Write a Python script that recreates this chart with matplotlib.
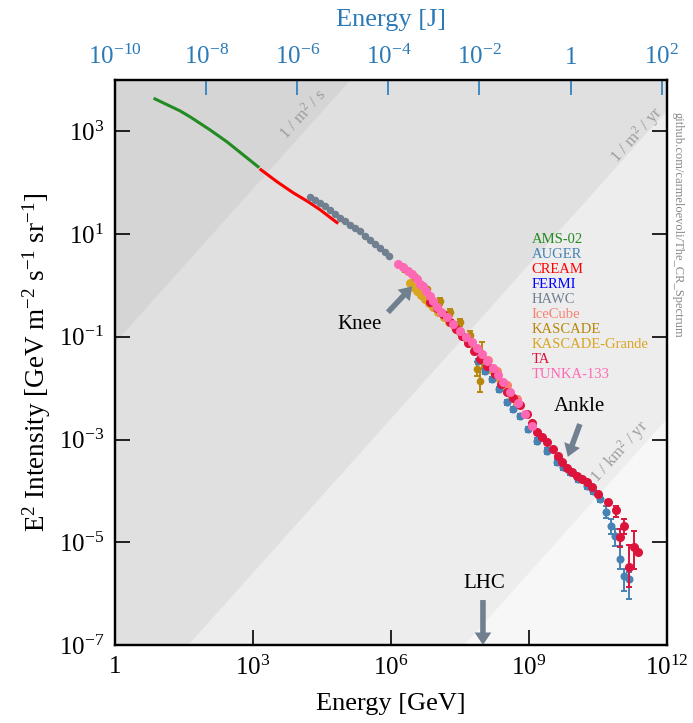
import numpy as np
import matplotlib.pyplot as plt
from matplotlib.ticker import FuncFormatter, NullLocator

plt.rcParams['font.family'] = ['Liberation Serif', 'DejaVu Serif']
plt.rcParams['mathtext.fontset'] = 'custom'
plt.rcParams['mathtext.rm'] = 'Liberation Serif'
plt.rcParams['mathtext.it'] = 'Liberation Serif:italic'

# ---- data (E in GeV, E^2 I in GeV m^-2 s^-1 sr^-1) ----
ams_E = [7.4, 26, 43, 116, 272, 1285]
ams_F = [4280, 2500, 1914, 1070, 625, 205]

cream_E = [1490, 3330, 7410, 15700, 28600, 67000]
cream_F = [179, 104.5, 64, 42.8, 29.9, 16.7]

hawc_E = [1.73e4, 2.23e4, 2.86e4, 3.67e4, 4.72e4, 6.07e4, 7.78e4, 1.0e5, 1.28e5,
          1.65e5, 2.12e5, 2.72e5, 3.49e5, 4.49e5, 5.77e5, 7.41e5, 9.05e5]
hawc_F = [52.7, 46.8, 40.4, 35.0, 29.9, 25.0, 20.7, 17.9, 15.3,
          13.1, 11.3, 9.35, 7.81, 6.55, 5.40, 4.47, 3.71]

tunka_E = [1.42e6, 1.82e6, 2.34e6, 2.86e6, 3.67e6, 4.27e6, 4.97e6, 5.77e6, 7.05e6,
           8.19e6, 1.0e7, 1.22e7, 1.65e7, 2.23e7, 3.16e7, 4.27e7, 5.77e7, 7.41e7,
           9.5e7, 1.22e8, 1.65e8, 2.12e8, 2.72e8, 3.86e8, 5.77e8, 8.19e8, 1.16e9]
tunka_F = [2.56, 2.24, 1.87, 1.64, 1.31, 1.09, 0.957, 0.764, 0.611,
           0.489, 0.374, 0.299, 0.239, 0.175, 0.128, 0.0977, 0.0782, 0.0598,
           0.0457, 0.0334, 0.0244, 0.0179, 0.0131, 0.00836, 0.00512, 0.00313, 0.00183]

ta_E = [7.05e6, 1.0e7, 1.35e7, 1.92e7, 2.59e7, 3.49e7, 4.72e7, 6.37e7, 8.61e7,
        1.22e8, 1.82e8, 2.46e8, 3.32e8, 4.49e8, 6.37e8, 9.05e8, 1.16e9, 1.49e9,
        1.92e9, 2.46e9, 3.32e9, 4.27e9, 5.21e9, 6.70e9, 8.61e9, 1.10e10, 1.42e10,
        1.82e10, 2.34e10, 3.16e10, 5.21e10, 7.78e10, 9.51e10, 1.16e11, 1.49e11,
        1.92e11, 2.34e11]
ta_F = [0.468, 0.357, 0.274, 0.191, 0.140, 0.102, 0.0748, 0.0522, 0.0366,
        0.0267, 0.0187, 0.0120, 0.00836, 0.00640, 0.00468, 0.00313, 0.00209, 0.00140,
        0.00112, 8.93e-4, 6.55e-4, 4.79e-4, 3.66e-4, 2.80e-4, 2.34e-4, 1.95e-4, 1.71e-4,
        1.50e-4, 1.20e-4, 8.75e-5, 6.11e-5, 4.28e-5, 1.28e-5, 2.09e-5, 3.34e-6,
        8.18e-6, 6.55e-6]
ta_err_dn = [0] * 29 + [0.05, 0.08, 0.27, 0.36, 0.30, 0.59, 0.63, 0.0]
ta_err_up = [0] * 29 + [0.05, 0.08, 0.20, 0.43, 0.37, 1.67, 1.04, 0.0]

auger_E = [7.78e7, 1.10e8, 1.57e8, 2.23e8, 3.32e8, 4.49e8, 6.37e8, 9.51e8, 1.49e9,
           2.46e9, 4.06e9, 5.48e9, 7.78e9, 1.16e10, 1.82e10, 2.46e10, 3.49e10,
           4.72e10, 6.07e10, 7.41e10, 9.51e10, 1.16e11, 1.49e11]
auger_F = [0.0334, 0.0214, 0.0150, 0.00957, 0.00535, 0.00391, 0.00286, 0.00160, 9.35e-4,
           5.98e-4, 3.66e-4, 2.92e-4, 2.34e-4, 1.71e-4, 1.25e-4, 1.0e-4, 7.0e-5,
           3.91e-5, 2.09e-5, 1.34e-5, 4.79e-6, 2.24e-6, 1.95e-6]
auger_err_dn = [0.12, 0.12, 0.12, 0.12, 0.12, 0.12, 0.12, 0.12, 0.12,
                0.12, 0.12, 0.12, 0.12, 0.12, 0.12, 0.12, 0.14,
                0.235, 0.30, 0.36, 0.36, 0.49, 0.59]
auger_err_up = [0.12, 0.12, 0.12, 0.12, 0.12, 0.12, 0.12, 0.12, 0.12,
                0.12, 0.12, 0.12, 0.12, 0.12, 0.12, 0.12, 0.14,
                0.31, 0.37, 0.37, 0.78, 0.36, 0.37]

kg_E = [2.59e6, 3.01e6, 3.67e6, 4.49e6, 5.48e6, 6.70e6, 8.19e6, 1.05e7, 1.42e7,
        1.82e7, 2.46e7, 3.16e7, 4.27e7, 5.48e7, 7.41e7, 9.51e7, 1.22e8, 1.57e8,
        2.01e8, 2.59e8, 3.32e8, 4.27e8, 5.48e8]
kg_F = [1.14, 0.914, 0.764, 0.640, 0.535, 0.447, 0.374, 0.299, 0.239,
        0.191, 0.153, 0.122, 0.0935, 0.0748, 0.0571, 0.0418, 0.0305, 0.0224,
        0.0164, 0.0120, 0.00875, 0.00668, 0.00489]

kascade_E = [2.01e6, 3.32e6, 6.07e6, 1.16e7, 1.92e7, 3.16e7, 5.21e7, 7.41e7, 8.61e7, 9.51e7]
kascade_F = [2.05, 1.43, 0.836, 0.489, 0.299, 0.191, 0.107, 0.0234, 0.0137, 0.0438]
kascade_err_dn = [0.12, 0.12, 0.12, 0.14, 0.14, 0.16, 0.2, 0.27, 0.39, 0.47]
kascade_err_up = [0.12, 0.12, 0.12, 0.14, 0.14, 0.16, 0.2, 0.37, 0.71, 0.79]

icecube_E = [5.21e7, 8.61e7, 1.28e8, 2.01e8, 3.32e8, 5.48e8]
icecube_F = [0.0782, 0.0479, 0.0350, 0.0214, 0.0114, 0.00611]

legend_names = ['AMS-02', 'AUGER', 'CREAM', 'FERMI', 'HAWC', 'IceCube',
                'KASCADE', 'KASCADE-Grande', 'TA', 'TUNKA-133']
legend_colors = ['forestgreen', 'steelblue', 'red', 'blue', 'slategray', 'salmon',
                 'darkgoldenrod', 'goldenrod', 'crimson', 'hotpink']

fig = plt.figure(figsize=(6.93, 7.23), dpi=100)
ax = fig.add_axes([0.1659, 0.1079, 0.7965, 0.7815])
ax.set_xscale('log')
ax.set_yscale('log')
ax.set_xlim(1, 1e12)
ax.set_ylim(1e-7, 1e4)

# flux bands
e_grid = np.logspace(0, 12, 50)
per_m2_s = e_grid / (4 * np.pi)
per_m2_yr = per_m2_s / 3.156e7
per_km2_yr = per_m2_yr / 1e6
ax.set_facecolor('#f7f7f7')
ax.fill_between(e_grid, per_km2_yr, per_m2_yr, color='#ededed', lw=0, zorder=0)
ax.fill_between(e_grid, per_m2_yr, per_m2_s, color='#e0e0e0', lw=0, zorder=0)
ax.fill_between(e_grid, per_m2_s, 1e6, color='#d5d5d5', lw=0, zorder=0)

band_kw = dict(color='#9c9c9c', fontsize=12, rotation=48, ha='center', va='center',
               zorder=1)
ax.text(1.22e4, 2.1e3, r'1 / m$^2$ / s', **band_kw)
ax.text(2.2e11, 8.6e2, r'1 / m$^2$ / yr', **band_kw)
ax.text(9.5e10, 5.7e-4, r'1 / km$^2$ / yr', **band_kw)

# data
ax.plot(ams_E, ams_F, color='forestgreen', lw=2.2, zorder=3)
ax.plot(cream_E, cream_F, color='red', lw=2.2, zorder=3)
ax.plot(hawc_E, hawc_F, 'o', color='slategray', ms=4.4, zorder=3)

def draw_err(E, F, dn, up, color, ms, z):
    F = np.array(F)
    yerr = [F * np.array(dn), F * np.array(up)]
    ax.errorbar(E, F, yerr=yerr, fmt='o', color=color, ms=ms, elinewidth=1.4,
                capsize=2.5, capthick=1.4, zorder=z)

ax.plot(kg_E, kg_F, 'o', color='goldenrod', ms=5.5, zorder=4)
draw_err(kascade_E, kascade_F, kascade_err_dn, kascade_err_up, 'darkgoldenrod', 4.5, 4)
ax.plot(icecube_E, icecube_F, 'o', color='salmon', ms=5.5, zorder=4)
draw_err(auger_E, auger_F, auger_err_dn, auger_err_up, 'steelblue', 4.8, 5)
draw_err(ta_E, ta_F, ta_err_dn, ta_err_up, 'crimson', 5.5, 6)
ax.plot(tunka_E, tunka_F, 'o', color='hotpink', ms=5.5, zorder=7)

# annotations
arrow = dict(facecolor='slategray', edgecolor='none', width=4, headwidth=12, headlength=9)
ax.annotate('', xy=(2.9e6, 0.96), xytext=(8.6e5, 0.3), arrowprops=arrow, zorder=8)
ax.text(2.1e5, 0.175, 'Knee', fontsize=15, ha='center', va='center')
ax.annotate('', xy=(7e9, 4.6e-4), xytext=(1.28e10, 2e-3), arrowprops=arrow, zorder=8)
ax.text(1.28e10, 4.3e-3, 'Ankle', fontsize=15, ha='center', va='center')
ax.annotate('', xy=(1.0e8, 1.0e-7), xytext=(1.0e8, 7.5e-7), arrowprops=arrow, zorder=8)
ax.text(1.05e8, 1.6e-6, 'LHC', fontsize=15, ha='center', va='center')

for i, (name, col) in enumerate(zip(legend_names, legend_colors)):
    ax.text(0.755, 0.717 - i * 0.0264, name, color=col, fontsize=10.5,
            va='center', transform=ax.transAxes, zorder=9)

def pow_label(v, pos):
    p = int(round(np.log10(v)))
    return '1' if p == 0 else r'$10^{%d}$' % p

ax.set_xticks([1, 1e3, 1e6, 1e9, 1e12])
ax.set_yticks([1e-7, 1e-5, 1e-3, 1e-1, 1e1, 1e3])
ax.xaxis.set_minor_locator(NullLocator())
ax.yaxis.set_minor_locator(NullLocator())
ax.xaxis.set_major_formatter(FuncFormatter(pow_label))
ax.yaxis.set_major_formatter(FuncFormatter(pow_label))
ax.tick_params(which='major', direction='in', length=11, width=1.2, labelsize=18,
               pad=8, right=True, top=False)
for s in ax.spines.values():
    s.set_linewidth(1.6)
ax.set_xlabel('Energy [GeV]', fontsize=19, labelpad=9)
ax.set_ylabel(r'E$^2$ Intensity [GeV m$^{-2}$ s$^{-1}$ sr$^{-1}$]', fontsize=19.5)

# top axis in Joule
top_blue = '#2a7ab8'
ax2 = ax.twiny()
ax2.set_xscale('log')
ax2.set_xlim(1e-10, 1.3e2)
ax2.set_xticks([1e-10, 1e-8, 1e-6, 1e-4, 1e-2, 1, 1e2])
ax2.xaxis.set_minor_locator(NullLocator())
ax2.xaxis.set_major_formatter(FuncFormatter(pow_label))
ax2.tick_params(direction='in', length=11, width=1.2, colors=top_blue, labelsize=18, pad=8)
ax2.set_xlabel('Energy [J]', fontsize=19, color=top_blue, labelpad=13)
for s in ax2.spines.values():
    s.set_linewidth(1.6)

fig.text(0.978, 0.689, 'github.com/carmeloevoli/The_CR_Spectrum', rotation=-90,
         fontsize=9, color='#888888', ha='center', va='center')

fig.savefig('out.png', dpi=100)
